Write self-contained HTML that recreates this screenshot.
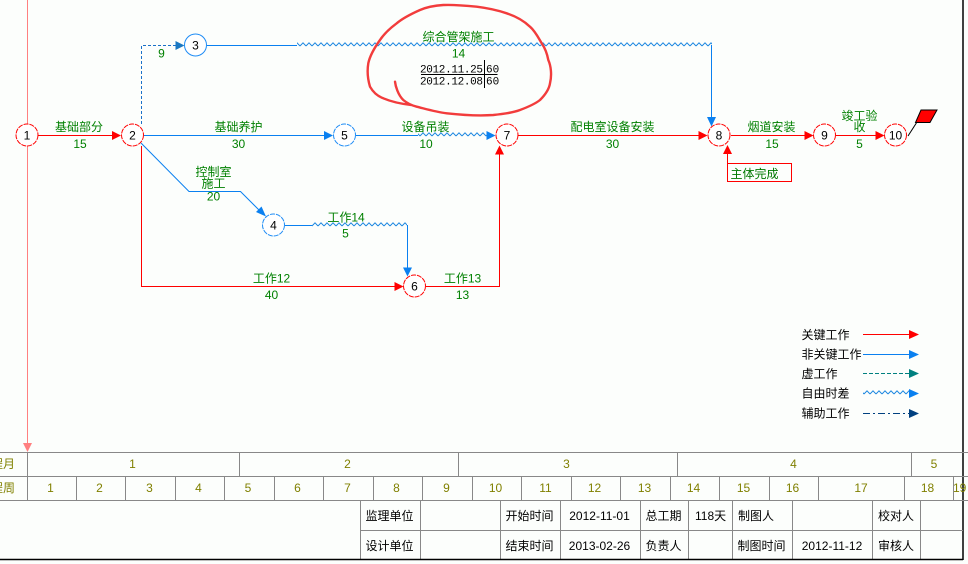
<!DOCTYPE html>
<html><head><meta charset="utf-8"><style>
html,body{margin:0;padding:0;background:#fcfefc;}
svg{display:block;}
text{font-family:"Liberation Sans","WenQuanYi Zen Hei","Noto Sans CJK SC",sans-serif;font-size:12px;}
.g{fill:#008000;text-anchor:middle;}
.k{fill:#000;}
.n{fill:#000;text-anchor:middle;}
.o{fill:#808000;text-anchor:middle;}
.mono{font-family:"Liberation Mono",monospace;font-size:11px;fill:#000;}
</style></head><body>
<svg width="968" height="564" viewBox="0 0 968 564" xmlns="http://www.w3.org/2000/svg">
<defs>
<pattern id="zz" x="0" y="0" width="6" height="6" patternUnits="userSpaceOnUse">
<polyline points="0,4 3,0.8 6,4" fill="none" stroke="#1a86e0" stroke-width="1"/>
</pattern>
</defs>
<rect width="968" height="564" fill="#fcfefc"/>

<!-- pink time line -->
<line x1="27.5" y1="0" x2="27.5" y2="444" stroke="#ff8080" stroke-width="1"/>
<polygon points="23,443 32,443 27.5,452" fill="#ff8080"/>

<!-- right border -->
<line x1="963" y1="0" x2="963" y2="560" stroke="#000" stroke-width="1.5"/>

<!-- ===== edges ===== -->
<!-- 1->2 -->
<line x1="38" y1="135.5" x2="113" y2="135.5" stroke="#f00"/>
<polygon points="121,135.5 112,131 112,140" fill="#f00"/>
<!-- 2->3 dashed -->
<polyline points="141.5,124 141.5,45.5 176,45.5" fill="none" stroke="#1a70c8" stroke-dasharray="3,2"/>
<polygon points="184.5,45.5 175.5,41 175.5,50" fill="#1a78c2"/>
<!-- 3->8 -->
<line x1="207" y1="45.5" x2="297" y2="45.5" stroke="#0a80f0"/>
<rect x="297" y="42" width="415" height="6" fill="url(#zz)"/>
<line x1="711.5" y1="45" x2="711.5" y2="118" stroke="#0a80f0"/>
<polygon points="711.5,126.5 707,117 716,117" fill="#0a80f0"/>
<!-- 2->5 -->
<line x1="144" y1="135.5" x2="325" y2="135.5" stroke="#0a80f0"/>
<polygon points="333,135.5 324,131 324,140" fill="#0a80f0"/>
<!-- 2->4 -->
<polyline points="141,143 189,191.5 240.5,191.5 260,211" fill="none" stroke="#0a80f0"/>
<polygon points="266,216.5 256,212 261.5,206.5" fill="#0a80f0"/>
<!-- 2->6 -->
<polyline points="141.5,146 141.5,286.5 395,286.5" fill="none" stroke="#f00"/>
<polygon points="403.5,286.5 394.5,282 394.5,291" fill="#f00"/>
<!-- 4->6 -->
<line x1="285" y1="225.5" x2="312" y2="225.5" stroke="#0a80f0"/>
<rect x="312" y="222" width="95" height="6" fill="url(#zz)"/>
<line x1="407.5" y1="225" x2="407.5" y2="268" stroke="#0a80f0"/>
<polygon points="407.5,276.5 403,267.5 412,267.5" fill="#0a80f0"/>
<!-- 5->7 -->
<line x1="356" y1="135.5" x2="418" y2="135.5" stroke="#0a80f0"/>
<rect x="418" y="132" width="69" height="6" fill="url(#zz)"/>
<polygon points="495.5,135.5 486.5,131 486.5,140" fill="#0a80f0"/>
<!-- 6->7 -->
<polyline points="426,286.5 499.5,286.5 499.5,154" fill="none" stroke="#f00"/>
<polygon points="499.5,145.5 495,154.5 504,154.5" fill="#f00"/>
<!-- 7->8 -->
<line x1="518" y1="135.5" x2="699" y2="135.5" stroke="#f00"/>
<polygon points="707.5,135.5 698.5,131 698.5,140" fill="#f00"/>
<!-- 8->9 -->
<line x1="731" y1="135.5" x2="805" y2="135.5" stroke="#f00"/>
<polygon points="813.5,135.5 804.5,131 804.5,140" fill="#f00"/>
<!-- 9->10 -->
<line x1="836" y1="135.5" x2="876" y2="135.5" stroke="#f00"/>
<polygon points="884.5,135.5 875.5,131 875.5,140" fill="#f00"/>
<!-- 主体完成 -->
<line x1="727.5" y1="153" x2="727.5" y2="164" stroke="#f00"/>
<polygon points="727.5,145 723,154 732,154" fill="#f00"/>
<rect x="727.5" y="163.5" width="64" height="18" fill="none" stroke="#f00"/>
<text x="730.5" y="178" style="fill:#007800">主体完成</text>

<!-- flag -->
<line x1="908" y1="136" x2="917" y2="122" stroke="#000"/>
<polygon points="921,110 937,110 930,122.5 915.5,122.5" fill="#f00" stroke="#000" stroke-width="1"/>

<!-- ===== nodes ===== -->
<g stroke-width="1" fill="#fff">
<circle cx="27" cy="135" r="11" stroke="#f00" stroke-dasharray="5,1"/>
<circle cx="132.5" cy="135" r="11" stroke="#f00" stroke-dasharray="5,1"/>
<circle cx="195.5" cy="45" r="11" stroke="#1e8cf5"/>
<circle cx="273.5" cy="225" r="11" stroke="#1e8cf5" stroke-dasharray="5,1"/>
<circle cx="344.5" cy="135" r="11" stroke="#1e8cf5" stroke-dasharray="5,1"/>
<circle cx="414.5" cy="286" r="11" stroke="#f00" stroke-dasharray="5,1"/>
<circle cx="507" cy="135" r="11" stroke="#f00" stroke-dasharray="5,1"/>
<circle cx="719" cy="135" r="11" stroke="#f00" stroke-dasharray="5,1"/>
<circle cx="824.5" cy="135" r="11" stroke="#f00" stroke-dasharray="5,1"/>
<circle cx="895.5" cy="135" r="11" stroke="#f00" stroke-dasharray="5,1"/>
</g>
<g class="n">
<text x="27" y="139.5">1</text>
<text x="132.5" y="139.5">2</text>
<text x="195.5" y="49.5">3</text>
<text x="273.5" y="229.5">4</text>
<text x="344.5" y="139.5">5</text>
<text x="414.5" y="290.5">6</text>
<text x="507" y="139.5">7</text>
<text x="719" y="139.5">8</text>
<text x="824.5" y="139.5">9</text>
<text x="895.5" y="139.5">10</text>
</g>

<!-- ===== labels ===== -->
<g class="g">
<text x="79" y="131">基础部分</text><text x="80" y="148">15</text>
<text x="238.5" y="131">基础养护</text><text x="238.5" y="148">30</text>
<text x="161.5" y="57.5">9</text>
<text x="213.5" y="176">控制室</text><text x="213.5" y="187.5">施工</text><text x="213.5" y="200.5">20</text>
<text x="346" y="221.5">工作14</text><text x="345.5" y="237.5">5</text>
<text x="271.5" y="282.5">工作12</text><text x="271.5" y="299">40</text>
<text x="462.5" y="282.5">工作13</text><text x="462.5" y="299">13</text>
<text x="425.5" y="131">设备吊装</text><text x="426" y="148">10</text>
<text x="458.5" y="41">综合管架施工</text><text x="458.5" y="57.5">14</text>
<text x="612.5" y="131">配电室设备安装</text><text x="612.5" y="148">30</text>
<text x="771.5" y="131">烟道安装</text><text x="772" y="148">15</text>
<text x="859.5" y="120">竣工验</text><text x="859.5" y="131">收</text><text x="859.5" y="148">5</text>
</g>

<!-- date box -->
<text class="mono" x="420" y="72.5" textLength="63">2012.11.25</text>
<text class="mono" x="486" y="72.5">60</text>
<text class="mono" x="420" y="84.5" textLength="63">2012.12.08</text>
<text class="mono" x="486" y="84.5">60</text>
<line x1="421" y1="74.5" x2="497.5" y2="74.5" stroke="#000"/>
<line x1="484.5" y1="60" x2="484.5" y2="88" stroke="#000"/>

<!-- red hand-drawn ellipse -->
<path d="M395,81.7 C395.5,86 398,95 403.3,100 C408,104 412,105.5 416.7,106.7 C426,109 436,112 446.7,113.3 C462,115 478,116 493.3,115 C503,114 512,113 520,110 C528,107 535,104 540,100 C545,95 549,90 550,83.3 C552,75 551,66 548.3,60 C547,53 545,48 541.7,43.3 C538,37 535,31 530,26.7 C523,20 515,16 506.7,13.3 C497,10 487,8 476.7,6.7 C465,5.5 454,4.5 443.3,5 C435,5.5 427,7 420,10 C411,14 403,18 396.7,23.3 C389,29 384,34 380,40 C375,47 370,55 368.3,63.3 C367,71 368,80 370,86.7 C373,92 377,96 383.3,98.3 C392,102 402,104 411.7,105" fill="none" stroke="#f23c3c" stroke-width="2.4" stroke-linecap="round" stroke-linejoin="round"/>

<!-- ===== legend ===== -->
<g class="k">
<text x="801.5" y="339">关键工作</text>
<text x="801.5" y="358.5">非关键工作</text>
<text x="801.5" y="378">虚工作</text>
<text x="801.5" y="397.5">自由时差</text>
<text x="801.5" y="417.5">辅助工作</text>
</g>
<line x1="863" y1="334.5" x2="910" y2="334.5" stroke="#f00"/>
<polygon points="919,334.5 909,330 909,339" fill="#f00"/>
<line x1="863" y1="354.5" x2="910" y2="354.5" stroke="#0a80f0"/>
<polygon points="919,354.5 909,350 909,359" fill="#0a80f0"/>
<line x1="863" y1="373.5" x2="910" y2="373.5" stroke="#008080" stroke-dasharray="4,2"/>
<polygon points="919,373.5 909,369 909,378" fill="#008080"/>
<rect x="863" y="390" width="46" height="6" fill="url(#zz)"/>
<polygon points="919,393.5 909,389 909,398" fill="#0a80f0"/>
<line x1="863" y1="413.5" x2="910" y2="413.5" stroke="#004080" stroke-dasharray="7,3,2,3"/>
<polygon points="919,413.5 909,409 909,418" fill="#004080"/>

<!-- ===== table ===== -->
<g stroke="#888" stroke-width="1">
<line x1="0" y1="452.5" x2="968" y2="452.5"/>
<line x1="0" y1="476.5" x2="968" y2="476.5"/>
<line x1="0" y1="500.5" x2="968" y2="500.5"/>
<line x1="360" y1="530.5" x2="963" y2="530.5"/>
<!-- month -->
<line x1="27.5" y1="452" x2="27.5" y2="500"/>
<line x1="239.5" y1="452" x2="239.5" y2="476"/>
<line x1="458.5" y1="452" x2="458.5" y2="476"/>
<line x1="677.5" y1="452" x2="677.5" y2="476"/>
<line x1="911.5" y1="452" x2="911.5" y2="476"/>
<!-- week -->
<line x1="76.5" y1="476" x2="76.5" y2="500"/>
<line x1="125.5" y1="476" x2="125.5" y2="500"/>
<line x1="175.5" y1="476" x2="175.5" y2="500"/>
<line x1="224.5" y1="476" x2="224.5" y2="500"/>
<line x1="274.5" y1="476" x2="274.5" y2="500"/>
<line x1="323.5" y1="476" x2="323.5" y2="500"/>
<line x1="373.5" y1="476" x2="373.5" y2="500"/>
<line x1="422.5" y1="476" x2="422.5" y2="500"/>
<line x1="472.5" y1="476" x2="472.5" y2="500"/>
<line x1="521.5" y1="476" x2="521.5" y2="500"/>
<line x1="571.5" y1="476" x2="571.5" y2="500"/>
<line x1="620.5" y1="476" x2="620.5" y2="500"/>
<line x1="670.5" y1="476" x2="670.5" y2="500"/>
<line x1="719.5" y1="476" x2="719.5" y2="500"/>
<line x1="769.5" y1="476" x2="769.5" y2="500"/>
<line x1="818.5" y1="476" x2="818.5" y2="500"/>
<line x1="904.5" y1="476" x2="904.5" y2="500"/>
<line x1="953.5" y1="476" x2="953.5" y2="500"/>
<!-- info -->
<line x1="360.5" y1="500" x2="360.5" y2="559"/>
<line x1="420.5" y1="500" x2="420.5" y2="559"/>
<line x1="500.5" y1="500" x2="500.5" y2="559"/>
<line x1="560.5" y1="500" x2="560.5" y2="559"/>
<line x1="640.5" y1="500" x2="640.5" y2="559"/>
<line x1="688.5" y1="500" x2="688.5" y2="559"/>
<line x1="732.5" y1="500" x2="732.5" y2="559"/>
<line x1="792.5" y1="500" x2="792.5" y2="559"/>
<line x1="872.5" y1="500" x2="872.5" y2="559"/>
<line x1="920.5" y1="500" x2="920.5" y2="559"/>
</g>
<line x1="0" y1="559.5" x2="963" y2="559.5" stroke="#000" stroke-width="1.5"/>

<g class="o">
<text x="15" y="468" style="text-anchor:end">程月</text>
<text x="15" y="492" style="text-anchor:end">程周</text>
<text x="132.5" y="468">1</text>
<text x="347.5" y="468">2</text>
<text x="566.5" y="468">3</text>
<text x="793.5" y="468">4</text>
<text x="934" y="468">5</text>
<text x="50.5" y="492">1</text>
<text x="99.5" y="492">2</text>
<text x="149.5" y="492">3</text>
<text x="198.5" y="492">4</text>
<text x="248" y="492">5</text>
<text x="297.5" y="492">6</text>
<text x="347.5" y="492">7</text>
<text x="396.5" y="492">8</text>
<text x="446.5" y="492">9</text>
<text x="495.5" y="492">10</text>
<text x="545.5" y="492">11</text>
<text x="594.5" y="492">12</text>
<text x="644.5" y="492">13</text>
<text x="693.5" y="492">14</text>
<text x="743.5" y="492">15</text>
<text x="792.5" y="492">16</text>
<text x="861" y="492">17</text>
<text x="927.5" y="492">18</text>
<text x="953" y="492" style="text-anchor:start">19</text>
</g>

<g class="k">
<text x="365.5" y="520">监理单位</text>
<text x="365.5" y="550">设计单位</text>
<text x="505.5" y="520">开始时间</text>
<text x="505.5" y="550">结束时间</text>
<text x="599.5" y="520" style="text-anchor:middle">2012-11-01</text>
<text x="599.5" y="550" style="text-anchor:middle">2013-02-26</text>
<text x="645.5" y="520">总工期</text>
<text x="645.5" y="550">负责人</text>
<text x="695" y="520">118天</text>
<text x="738" y="520">制图人</text>
<text x="737.5" y="550">制图时间</text>
<text x="832" y="550" style="text-anchor:middle">2012-11-12</text>
<text x="878" y="520">校对人</text>
<text x="878" y="550">审核人</text>
</g>
</svg>
</body></html>
